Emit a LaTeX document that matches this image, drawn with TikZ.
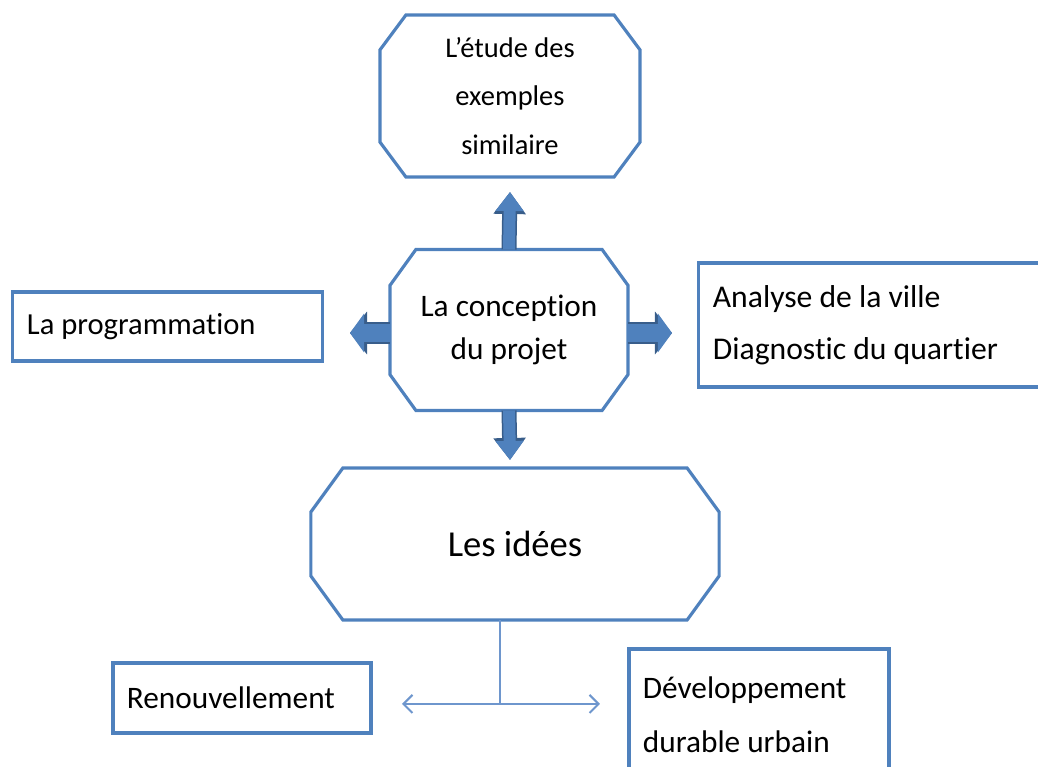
\documentclass[tikz,border=0pt]{standalone}
\usepackage{fontspec}
\setmainfont{Carlito}[Ligatures=NoCommon]
\usepackage{xcolor}
\usetikzlibrary{arrows.meta}
\definecolor{qblue}{RGB}{79,129,189}
\definecolor{qdark}{RGB}{56,93,138}
\definecolor{qthin}{RGB}{110,150,205}

% octagon round a named node: node, horizontal cut, vertical cut
\newcommand\octa[3]{%
  \draw[qblue,line width=0.9pt,line join=miter]
    ([xshift=#2]#1.north west) -- ([xshift=-#2]#1.north east)
    -- ([yshift=-#3]#1.north east) -- ([yshift=#3]#1.south east)
    -- ([xshift=-#2]#1.south east) -- ([xshift=#2]#1.south west)
    -- ([yshift=#3]#1.south west) -- ([yshift=-#3]#1.north west) -- cycle;}

\begin{document}
\begin{tikzpicture}[
  x=0.01cm, y=-0.01cm,
  octo/.style={rectangle,align=center,inner sep=0pt,outer sep=0pt},
  rbox/.style={rectangle,draw=qblue,line width=0.9pt,align=flush left,
               inner xsep=0.14cm,inner ysep=0pt},
  varr/.style={draw=qblue,line width=0.12cm,-{Triangle[width=0.27cm,length=0.19cm]},
               preaction={draw=qdark,line width=0.15cm,
                          -{Triangle[width=0.31cm,length=0.22cm]}}},
  harr/.style={draw=qblue,line width=0.18cm,-{Triangle[width=0.38cm,length=0.14cm]},
               preaction={draw=qdark,line width=0.21cm,
                          -{Triangle[width=0.42cm,length=0.17cm]}}},
  thinarr/.style={draw=qthin,line width=0.6pt,-{Straight Barb[length=0.09cm,width=0.18cm]}},
  ]
  \useasboundingbox (0,0) rectangle (1038,767);

  % octagons
  \node[octo,minimum width=2.60cm,minimum height=1.62cm,
        font=\fontsize{8.1}{13.7}\selectfont] (etude) at (510,96)
        {L’étude des\\exemples\\similaire};
  \node[octo,minimum width=2.38cm,minimum height=1.61cm,
        font=\fontsize{8.9}{12}\selectfont] (conc) at (509,330)
        {La conception\\du projet};
  \node[octo,minimum width=4.08cm,minimum height=1.52cm,
        font=\fontsize{10.4}{12}\selectfont] (idees) at (515,544)
        {Les idées};
  \octa{etude}{0.26cm}{0.35cm}
  \octa{conc}{0.26cm}{0.36cm}
  \octa{idees}{0.32cm}{0.44cm}

  % rectangles
  \node[rbox,minimum width=3.09cm,minimum height=0.69cm,text width=2.81cm,
        font=\fontsize{8.7}{12}\selectfont] (prog) at (167.5,326.5)
        {La programmation};
  \node[rbox,minimum width=3.51cm,minimum height=1.24cm,text width=3.23cm,
        font=\fontsize{9}{14.8}\selectfont] (ville) at (874.5,325)
        {Analyse de la ville\\Diagnostic du quartier};
  \node[rbox,minimum width=2.58cm,minimum height=0.70cm,text width=2.30cm,
        font=\fontsize{8.9}{12}\selectfont] (renouv) at (242,698)
        {Renouvellement};
  \node[rbox,minimum width=2.60cm,minimum height=1.32cm,text width=2.32cm,
        font=\fontsize{8.9}{15.4}\selectfont] (durable) at (759,715)
        {Développement\\durable urbain};

  % block arrows
  \coordinate (upend)    at (510,192);
  \coordinate (downend)  at (510,460);
  \coordinate (leftend)  at (350,333);
  \coordinate (rightend) at (672,333);
  \draw[varr] (conc.north) -- (upend);
  \draw[varr] (conc.south) -- (downend);
  \draw[harr] (conc.west |- leftend) -- (leftend);
  \draw[harr] (conc.east |- rightend) -- (rightend);

  % fork under the ideas
  \coordinate (fork)  at (500,704);
  \coordinate (forkl) at (402,704);
  \coordinate (forkr) at (600,704);
  \draw[qthin,line width=0.6pt] (idees.south -| fork) -- (fork);
  \draw[thinarr] (fork) -- (forkl);
  \draw[thinarr] (fork) -- (forkr);
\end{tikzpicture}
\end{document}
